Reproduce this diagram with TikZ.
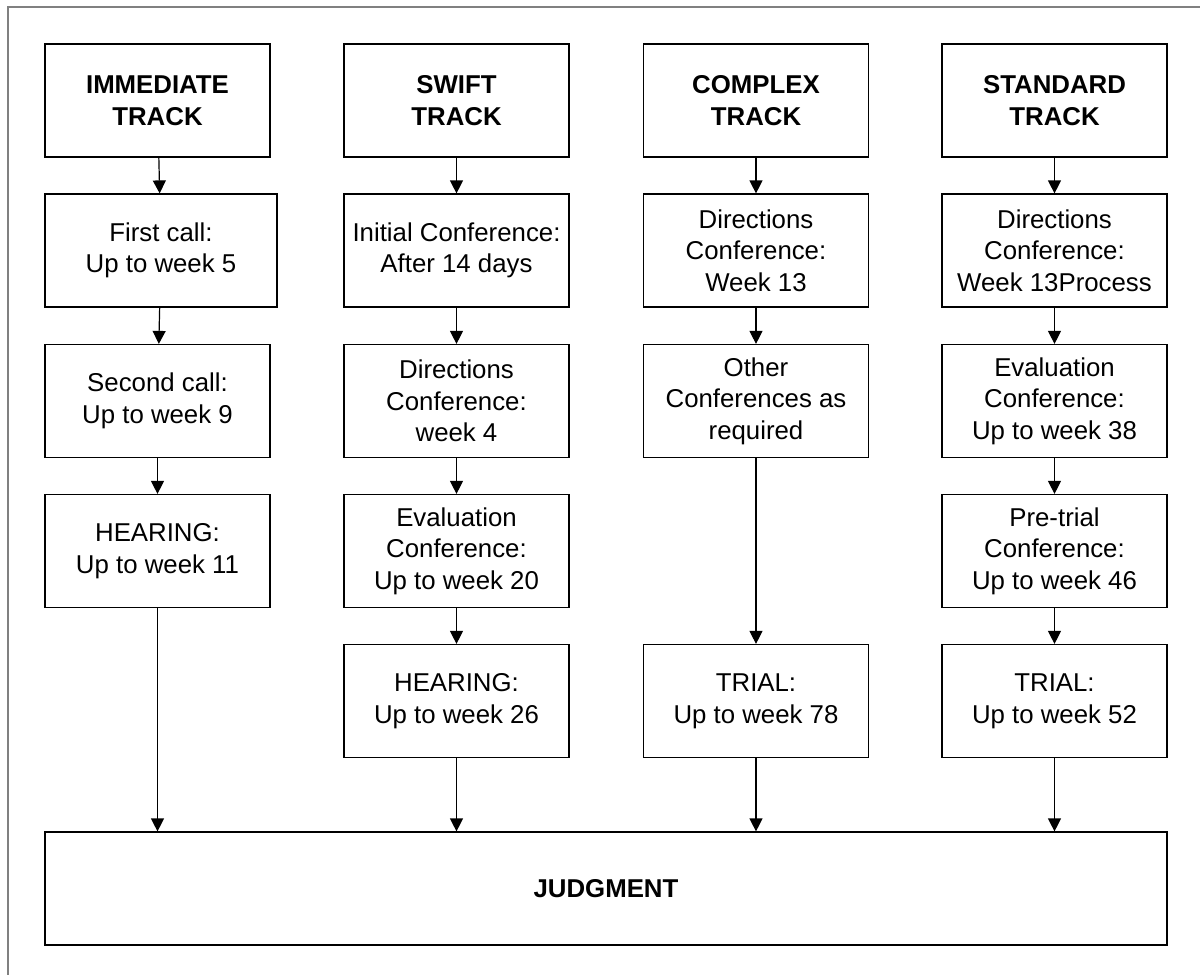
\documentclass[tikz,border=0pt]{standalone}
\usepackage{fontspec}
\setmainfont{Liberation Sans}
\usetikzlibrary{arrows.meta}
\begin{document}
\begin{tikzpicture}[x=0.5pt,y=-0.5pt,
 box/.style={draw=black, line width=0.6pt, minimum width=112.5pt, minimum height=56.5pt, align=center, inner sep=1pt, font=\fontsize{12.9pt}{15.8pt}\selectfont},
 hdr/.style={box, font=\fontsize{12.9pt}{15.8pt}\selectfont\bfseries},
 arr/.style={line width=0.6pt, -{Triangle[length=6.5pt,width=6.5pt]}},
 frameline/.style={draw=black!50, line width=1pt}]
\useasboundingbox (0,0) rectangle (1200,975);
\coordinate (f1) at (8,975);
\coordinate (f2) at (8,6.5);
\coordinate (f3) at (1200,6.5);
\draw[frameline] (f1) -- (f2) -- (f3);

% headers
\node[hdr] (imm) at (157.5,100.5) {IMMEDIATE\\TRACK};
\node[hdr] (swi) at (456.5,100.5) {SWIFT\\TRACK};
\node[hdr] (com) at (756,100.5) {COMPLEX\\TRACK};
\node[hdr] (sta) at (1054.5,100.5) {STANDARD\\TRACK};

% immediate
\node[box, minimum width=116pt] (i1) at (161,250.5) {First call:\\Up to week 5};
\node[box] (i2) at (157.5,401) {Second call:\\Up to week 9};
\node[box] (i3) at (157.5,551) {HEARING:\\Up to week 11};

% swift
\node[box] (s1) at (456.5,250.5) {Initial Conference:\\After 14 days};
\node[box] (s2) at (456.5,401) {Directions\\Conference:\\week 4};
\node[box] (s3) at (456.5,551) {Evaluation\\Conference:\\Up to week 20};
\node[box] (s4) at (456.5,701) {HEARING:\\Up to week 26};

% complex
\node[box] (c1) at (756,250.5) {Directions\\Conference:\\Week 13};
\node[box] (c2) at (756,401) {Other\\Conferences as\\required};
\node[box] (c3) at (756,701) {TRIAL:\\Up to week 78};

% standard
\node[box] (t1) at (1054.5,250.5) {Directions\\Conference:\\Week 13Process};
\node[box] (t2) at (1054.5,401) {Evaluation\\Conference:\\Up to week 38};
\node[box] (t3) at (1054.5,551) {Pre-trial\\Conference:\\Up to week 46};
\node[box] (t4) at (1054.5,701) {TRIAL:\\Up to week 52};

% judgment
\node[hdr, minimum width=561pt] (jud) at (606,888.5) {JUDGMENT};

% arrows
\draw[arr] (imm) -- (i1);
\draw[arr] (i1) -- (i2);
\draw[arr] (i2) -- (i3);
\draw[arr] (i3.south) -- (i3.south |- jud.north);

\draw[arr] (swi) -- (s1);
\draw[arr] (s1) -- (s2);
\draw[arr] (s2) -- (s3);
\draw[arr] (s3) -- (s4);
\draw[arr] (s4.south) -- (s4.south |- jud.north);

\draw[arr] (com) -- (c1);
\draw[arr] (c1) -- (c2);
\draw[arr] (c2) -- (c3);
\draw[arr] (c3.south) -- (c3.south |- jud.north);

\draw[arr] (sta) -- (t1);
\draw[arr] (t1) -- (t2);
\draw[arr] (t2) -- (t3);
\draw[arr] (t3) -- (t4);
\draw[arr] (t4.south) -- (t4.south |- jud.north);
\end{tikzpicture}
\end{document}
